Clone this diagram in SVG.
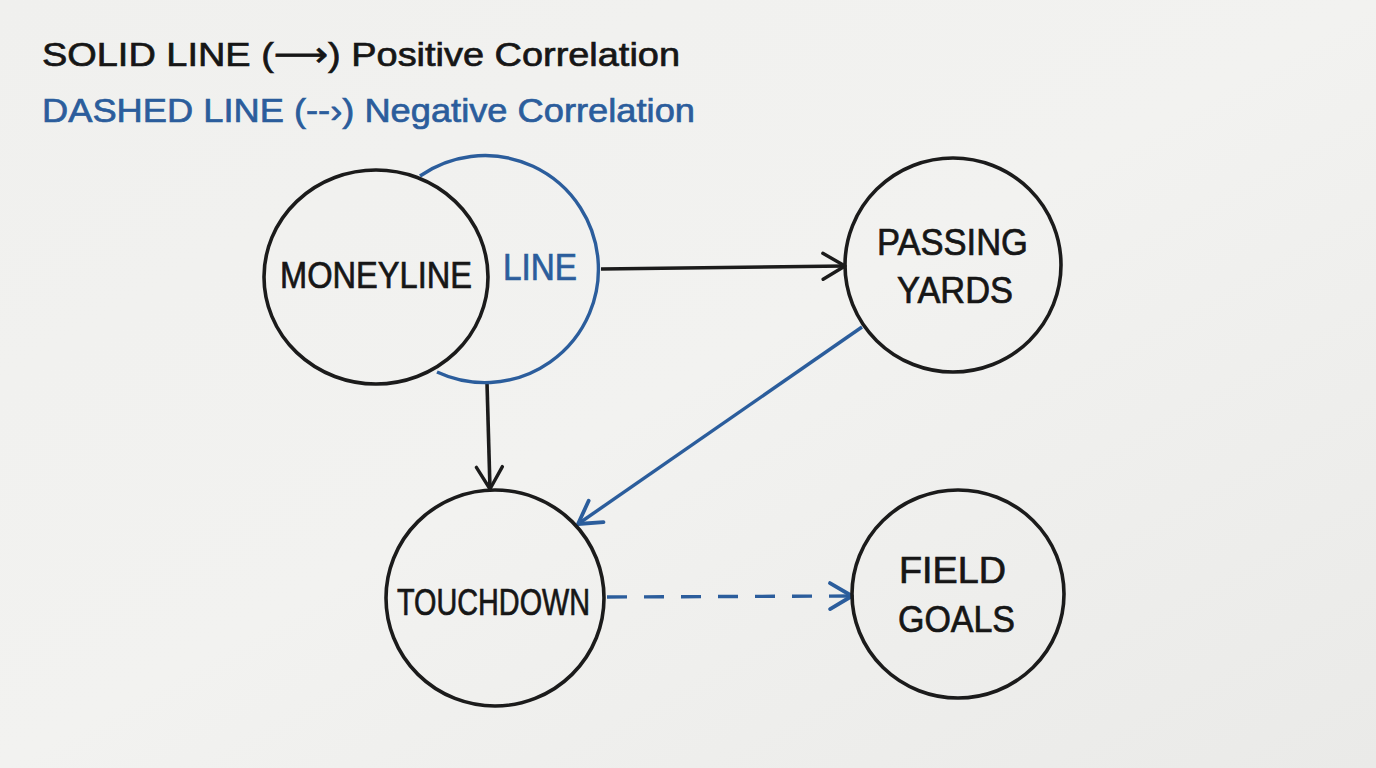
<svg xmlns="http://www.w3.org/2000/svg" width="1376" height="768" viewBox="0 0 1376 768">
<defs>
<linearGradient id="bg" x1="0" y1="0" x2="1" y2="1">
<stop offset="0" stop-color="#f0f0ee"/>
<stop offset="0.5" stop-color="#f2f2f0"/>
<stop offset="1" stop-color="#eaeae8"/>
</linearGradient>
<marker id="ahK" markerUnits="userSpaceOnUse" markerWidth="40" markerHeight="40" refX="30" refY="20" orient="auto" viewBox="0 0 40 40">
<path d="M8,7 L30,20 L8,33" fill="none" stroke="#1b1b1b" stroke-width="3.4" stroke-linecap="round" stroke-linejoin="round"/>
</marker>
<marker id="ahB" markerUnits="userSpaceOnUse" markerWidth="40" markerHeight="40" refX="30" refY="20" orient="auto" viewBox="0 0 40 40">
<path d="M8,7 L30,20 L8,33" fill="none" stroke="#2b5d9c" stroke-width="3.8" stroke-linecap="round" stroke-linejoin="round"/>
</marker>
</defs>
<style>
.k{fill:none;stroke:#1b1b1b;stroke-width:3.6}
.b{fill:none;stroke:#2b5d9c;stroke-width:3.4}
.t{font-family:"Liberation Sans","DejaVu Sans",sans-serif;fill:#161616;stroke:#161616;stroke-width:0.7}
.tb{font-family:"Liberation Sans","DejaVu Sans",sans-serif;fill:#2b5d9c;stroke:#2b5d9c;stroke-width:0.7}
.lbl{font-size:36px}
</style>
<rect x="0" y="0" width="1376" height="768" fill="url(#bg)"/>

<g id="legend">
<text class="t" x="42" y="66" font-size="34" textLength="638" lengthAdjust="spacingAndGlyphs">SOLID LINE (⟶) Positive Correlation</text>
<text class="tb" x="42" y="122" font-size="34" textLength="653" lengthAdjust="spacingAndGlyphs">DASHED LINE (--›) Negative Correlation</text>
</g>

<g id="connectors">
<line class="k" x1="601" y1="269" x2="845" y2="266" marker-end="url(#ahK)"/>
<line class="k" x1="487" y1="383" x2="490" y2="489" marker-end="url(#ahK)"/>
<line class="b" x1="862" y1="327" x2="578" y2="524" marker-end="url(#ahB)"/>
<line class="b" x1="607" y1="597" x2="852" y2="596" stroke-width="4" stroke-dasharray="20,17" marker-end="url(#ahB)"/>
</g>

<g id="node-line">
<path class="b" d="M 420 176 A 113.5 113.5 0 1 1 437 372"/>
<text class="tb lbl" x="503" y="280" textLength="74" lengthAdjust="spacingAndGlyphs">LINE</text>
</g>

<g id="node-moneyline">
<ellipse class="k" cx="376" cy="277" rx="112" ry="107"/>
<text class="t lbl" x="280" y="288" textLength="192" lengthAdjust="spacingAndGlyphs">MONEYLINE</text>
</g>

<g id="node-passing-yards">
<ellipse class="k" cx="953" cy="265" rx="108" ry="107"/>
<text class="t lbl" x="877" y="255" textLength="151" lengthAdjust="spacingAndGlyphs">PASSING</text>
<text class="t lbl" x="897" y="303" textLength="116" lengthAdjust="spacingAndGlyphs">YARDS</text>
</g>

<g id="node-touchdown">
<ellipse class="k" cx="495" cy="598" rx="109" ry="108"/>
<text class="t lbl" x="397" y="615" textLength="193" lengthAdjust="spacingAndGlyphs">TOUCHDOWN</text>
</g>

<g id="node-field-goals">
<ellipse class="k" cx="958" cy="594" rx="106" ry="104"/>
<text class="t lbl" x="899" y="583" textLength="107" lengthAdjust="spacingAndGlyphs">FIELD</text>
<text class="t lbl" x="898" y="632" textLength="117" lengthAdjust="spacingAndGlyphs">GOALS</text>
</g>
</svg>
